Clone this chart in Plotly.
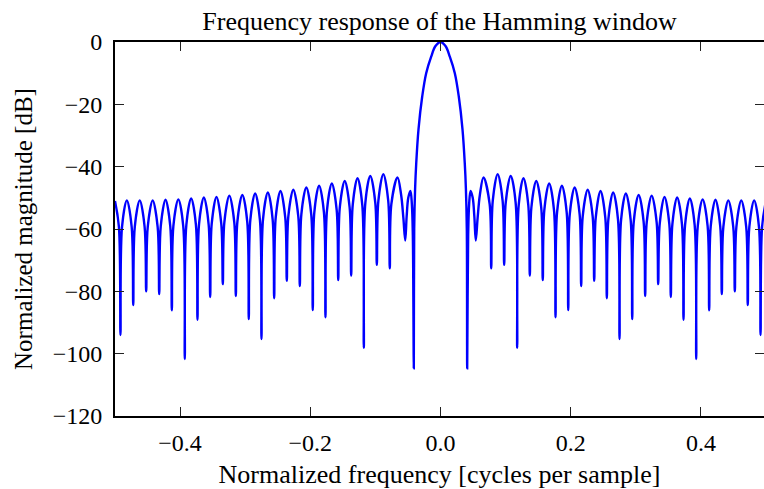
import plotly.graph_objects as go

# ---- data (normalized frequency, dB) ----
# left side-lobe region, from -0.5 up to the main-lobe null
left_freq = [
    -0.5000, -0.4940, -0.4916,
    -0.4892, -0.4818, -0.4744, -0.4720,
    -0.4696, -0.4620, -0.4545, -0.4521,
    -0.4497, -0.4421, -0.4345, -0.4321,
    -0.4297, -0.4224, -0.4151, -0.4127,
    -0.4103, -0.4027, -0.3952, -0.3928,
    -0.3904, -0.3830, -0.3757, -0.3733,
    -0.3709, -0.3635, -0.3562, -0.3538,
    -0.3514, -0.3441, -0.3368, -0.3344,
    -0.3320, -0.3244, -0.3168, -0.3144,
    -0.3120, -0.3044, -0.2969, -0.2945,
    -0.2921, -0.2847, -0.2774, -0.2750,
    -0.2726, -0.2652, -0.2579, -0.2555,
    -0.2531, -0.2458, -0.2385, -0.2361,
    -0.2337, -0.2261, -0.2185, -0.2161,
    -0.2137, -0.2061, -0.1986, -0.1962,
    -0.1938, -0.1865, -0.1791, -0.1767,
    -0.1743, -0.1669, -0.1595, -0.1571,
    -0.1547, -0.1471, -0.1396, -0.1372,
    -0.1348, -0.1275, -0.1202, -0.1178,
    -0.1154, -0.1078, -0.1002, -0.0978,
    -0.0954, -0.0878, -0.0803, -0.0779,
    -0.0755, -0.0660, -0.0605, -0.0570, -0.0542,
    -0.0520, -0.0495, -0.0462, -0.0440, -0.0425, -0.0410,
]
left_db = [
    -51.0, -59.3, -94.0,
    -59.3, -50.8, -59.3, -84.4,
    -59.3, -50.8, -59.3, -80.0,
    -59.3, -50.8, -59.3, -80.9,
    -59.1, -50.6, -59.1, -86.1,
    -59.0, -50.5, -59.0, -101.7,
    -58.7, -50.2, -58.7, -89.1,
    -58.4, -49.9, -58.4, -81.8,
    -58.2, -49.7, -58.2, -77.7,
    -57.8, -49.3, -57.8, -81.5,
    -57.6, -49.1, -57.6, -88.9,
    -57.1, -48.6, -57.1, -95.3,
    -56.8, -48.3, -56.8, -82.2,
    -56.3, -47.8, -56.3, -76.6,
    -55.9, -47.4, -55.9, -78.3,
    -55.2, -46.7, -55.2, -86.0,
    -54.6, -46.1, -54.6, -88.3,
    -53.9, -45.4, -53.9, -76.4,
    -53.1, -44.6, -53.1, -74.9,
    -52.2, -43.7, -52.2, -98.1,
    -51.5, -43.0, -51.5, -71.5,
    -50.9, -42.4, -50.9, -72.6,
    -52.0, -43.5, -49.0, -56.5, -63.7,
    -56.0, -50.0, -47.8, -52.0, -62.0, -104.7,
]

# main lobe
main_freq = [-0.0404, -0.0390, -0.0373, -0.0338, -0.0281, -0.0220, -0.0143, -0.0077,
             0.0000,
             0.0077, 0.0143, 0.0220, 0.0281, 0.0338, 0.0373, 0.0390, 0.0404]
main_db = [-60.0, -47.0, -39.0, -28.0, -17.5, -10.0, -4.7, -1.3,
           0.0,
           -1.3, -4.7, -10.0, -17.5, -28.0, -39.0, -47.0, -60.0]

# right side-lobe region, from the main-lobe null up to +0.5
right_freq = [
    0.0410, 0.0425, 0.0440, 0.0462, 0.0495, 0.0520,
    0.0542, 0.0570, 0.0605, 0.0660, 0.0755,
    0.0779, 0.0803, 0.0878, 0.0954,
    0.0978, 0.1002, 0.1078, 0.1154,
    0.1178, 0.1202, 0.1275, 0.1348,
    0.1372, 0.1396, 0.1471, 0.1547,
    0.1571, 0.1595, 0.1669, 0.1743,
    0.1767, 0.1791, 0.1865, 0.1938,
    0.1962, 0.1986, 0.2061, 0.2137,
    0.2161, 0.2185, 0.2261, 0.2337,
    0.2361, 0.2385, 0.2458, 0.2531,
    0.2555, 0.2579, 0.2652, 0.2726,
    0.2750, 0.2774, 0.2847, 0.2921,
    0.2945, 0.2969, 0.3044, 0.3120,
    0.3144, 0.3168, 0.3244, 0.3320,
    0.3344, 0.3368, 0.3441, 0.3514,
    0.3538, 0.3562, 0.3635, 0.3709,
    0.3733, 0.3757, 0.3830, 0.3904,
    0.3928, 0.3952, 0.4027, 0.4103,
    0.4127, 0.4151, 0.4224, 0.4297,
    0.4321, 0.4345, 0.4421, 0.4497,
    0.4521, 0.4545, 0.4620, 0.4696,
    0.4720, 0.4744, 0.4818, 0.4892,
    0.4916, 0.4940, 0.5000,
]
right_db = [
    -104.7, -62.0, -52.0, -47.8, -50.0, -56.0,
    -63.7, -56.5, -49.0, -43.5, -52.0,
    -72.6, -50.9, -42.4, -50.9,
    -71.5, -51.5, -43.0, -51.5,
    -98.1, -52.2, -43.7, -52.2,
    -74.9, -53.1, -44.6, -53.1,
    -76.4, -53.9, -45.4, -53.9,
    -88.3, -54.6, -46.1, -54.6,
    -86.0, -55.2, -46.7, -55.2,
    -78.3, -55.9, -47.4, -55.9,
    -76.6, -56.3, -47.8, -56.3,
    -82.2, -56.8, -48.3, -56.8,
    -95.3, -57.1, -48.6, -57.1,
    -88.9, -57.6, -49.1, -57.6,
    -81.5, -57.8, -49.3, -57.8,
    -77.7, -58.2, -49.7, -58.2,
    -81.8, -58.4, -49.9, -58.4,
    -89.1, -58.7, -50.2, -58.7,
    -101.7, -59.0, -50.5, -59.0,
    -86.1, -59.1, -50.6, -59.1,
    -80.9, -59.3, -50.8, -59.3,
    -80.0, -59.3, -50.8, -59.3,
    -84.4, -59.3, -50.8, -59.3,
    -94.0, -59.3, -51.0,
]

x_tick_vals = [-0.4, -0.2, 0.0, 0.2, 0.4]
x_tick_text = ["\u22120.4", "\u22120.2", "0.0", "0.2", "0.4"]
y_tick_vals = [0, -20, -40, -60, -80, -100, -120]
y_tick_text = ["0", "\u221220", "\u221240", "\u221260", "\u221280", "\u2212100", "\u2212120"]

title_text = "Frequency response of the Hamming window"
x_title = "Normalized frequency [cycles per sample]"
y_title = "Normalized magnitude [dB]"

freq = left_freq + main_freq + right_freq
mag_db = left_db + main_db + right_db

FONT = "Liberation Serif, Times New Roman, serif"
TICK_SIZE = 24

fig = go.Figure()
fig.add_trace(go.Scatter(
    x=freq, y=mag_db, mode="lines",
    line=dict(color="#0000ff", width=2.4, shape="spline", smoothing=1.0),
    showlegend=False, hoverinfo="skip",
))

fig.update_layout(
    width=764, height=489,
    margin=dict(l=115, r=0, t=42, b=73, autoexpand=False),
    paper_bgcolor="white", plot_bgcolor="white",
    font=dict(family=FONT, color="black", size=TICK_SIZE),
    title=dict(text=title_text, x=0.5, xref="paper", xanchor="center",
               y=1 - 21 / 489, yref="container", yanchor="middle",
               font=dict(family=FONT, size=26, color="black")),
)
fig.update_xaxes(
    range=[-0.5, -0.5 + 649 / 651],
    tickvals=x_tick_vals, ticktext=x_tick_text,
    ticks="inside", ticklen=9, tickwidth=1.2, tickcolor="#222",
    showline=True, linewidth=2, linecolor="black", mirror="ticks",
    showgrid=False, zeroline=False, automargin=False,
    tickfont=dict(family=FONT, size=TICK_SIZE, color="black"),
    ticklabelstandoff=4,
    title=dict(text=x_title, font=dict(family=FONT, size=26, color="black"), standoff=12),
)
fig.update_yaxes(
    range=[-120, 0],
    tickvals=y_tick_vals, ticktext=y_tick_text,
    ticks="inside", ticklen=9, tickwidth=1.2, tickcolor="#222",
    showline=True, linewidth=2, linecolor="black", mirror="ticks",
    showgrid=False, zeroline=False, automargin=False,
    tickfont=dict(family=FONT, size=TICK_SIZE, color="black"),
    ticklabelstandoff=6,
    title=dict(text=y_title, font=dict(family=FONT, size=25, color="black"), standoff=13),
)

fig.write_html(
    "out.html",
    config={"displayModeBar": False},
    post_script="document.body.style.margin='0px';document.documentElement.style.overflow='hidden';",
)
